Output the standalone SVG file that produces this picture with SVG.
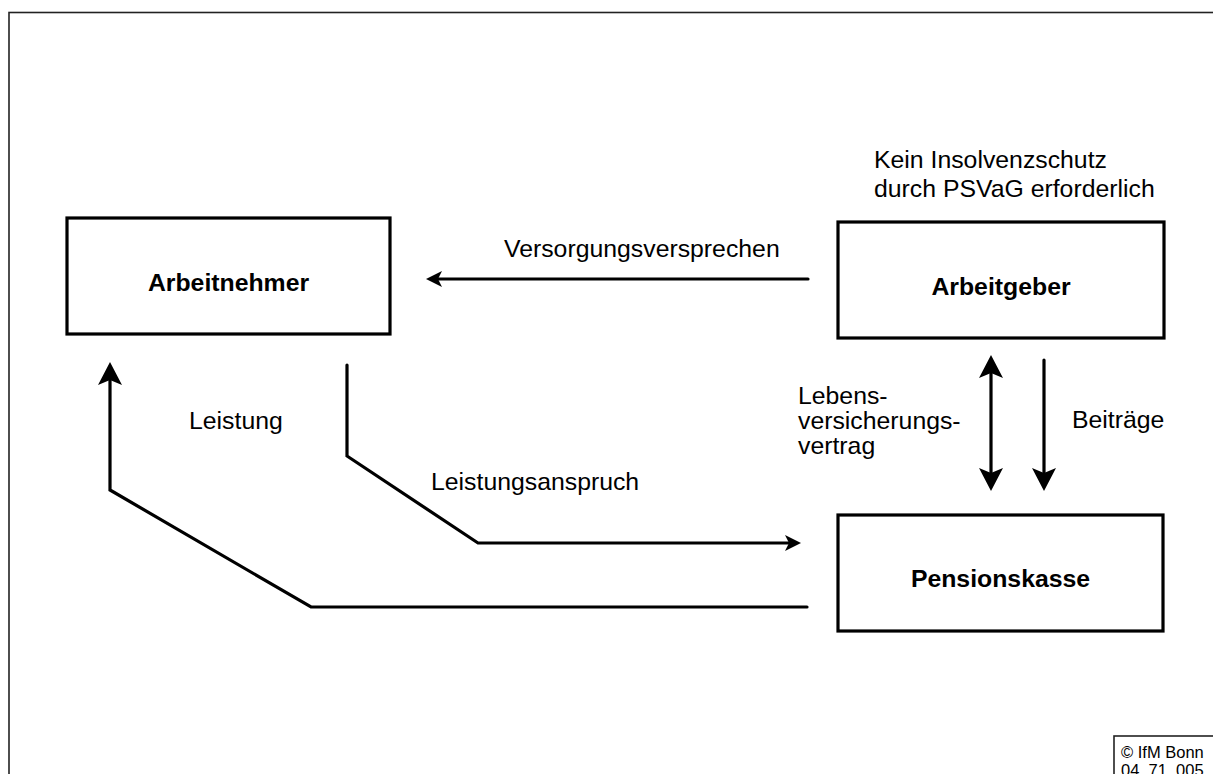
<svg xmlns="http://www.w3.org/2000/svg" width="1213" height="774" viewBox="0 0 1213 774">
  <style>
    text { font-family: "Liberation Sans", Arial, sans-serif; font-size: 24.8px; fill: #000; }
    .bold { font-weight: bold; text-anchor: middle; }
    .small { font-size: 16.5px; }
    .box { fill: #fff; stroke: #000; stroke-width: 3.2; }
    .frame { fill: none; stroke: #222; stroke-width: 1.6; }
    .conn { fill: none; stroke: #000; stroke-width: 3.2; stroke-linecap: round; stroke-linejoin: miter; }
  </style>
  <defs>
    <marker id="arrS" markerUnits="userSpaceOnUse" viewBox="0 0 16 16" markerWidth="16" markerHeight="16" refX="8" refY="8" orient="auto">
      <path d="M0,0 L16,8 L0,16 L4,8 Z" fill="#000"/>
    </marker>
    <marker id="arrL" markerUnits="userSpaceOnUse" viewBox="0 0 23 24" markerWidth="23" markerHeight="24" refX="13" refY="12" orient="auto-start-reverse">
      <path d="M0,0 L23,12 L0,24 L5,12 Z" fill="#000"/>
    </marker>
  </defs>
  <rect x="0" y="0" width="1213" height="774" fill="#fff"/>
  <rect class="frame" x="9" y="12.5" width="1230" height="790"/>

  <g id="arbeitnehmer">
    <rect class="box" x="67" y="218" width="323" height="116"/>
    <text class="bold" x="228.5" y="291">Arbeitnehmer</text>
  </g>
  <g id="arbeitgeber">
    <rect class="box" x="838" y="222" width="326" height="116"/>
    <text class="bold" x="1001" y="295">Arbeitgeber</text>
  </g>
  <g id="pensionskasse">
    <rect class="box" x="838" y="515" width="325" height="116"/>
    <text class="bold" x="1000.5" y="587">Pensionskasse</text>
  </g>
  <g id="hinweis">
    <text x="874" y="168">Kein Insolvenzschutz</text>
    <text x="874" y="197">durch PSVaG erforderlich</text>
  </g>

  <g id="connectors">
    <line class="conn" x1="808" y1="279" x2="434" y2="279" marker-end="url(#arrS)"/>
    <text x="504" y="257">Versorgungsversprechen</text>
    <polyline class="conn" points="347,365 347,456 478,543 793,543" marker-end="url(#arrS)"/>
    <text x="431" y="490">Leistungsanspruch</text>
    <polyline class="conn" points="807,607 311,607 110,490 110,372" marker-end="url(#arrL)"/>
    <text x="189" y="429">Leistung</text>
    <line class="conn" x1="991" y1="365" x2="991" y2="481" marker-start="url(#arrL)" marker-end="url(#arrL)"/>
    <text x="798" y="404">Lebens-</text>
    <text x="798" y="429">versicherungs-</text>
    <text x="798" y="454">vertrag</text>
    <line class="conn" x1="1044" y1="360" x2="1044" y2="481" marker-end="url(#arrL)"/>
    <text x="1072" y="428">Beiträge</text>
  </g>

  <g id="copyright">
    <rect class="frame" x="1114" y="736" width="110" height="60"/>
    <text class="small" x="1121" y="758">© IfM Bonn</text>
    <text class="small" x="1121" y="776">04_71_005</text>
  </g>
</svg>
